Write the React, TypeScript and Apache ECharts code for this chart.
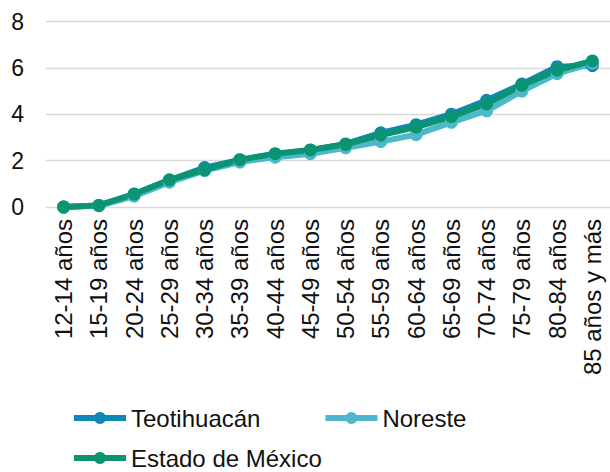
import React, { useEffect, useRef } from "react";
import * as echarts from "echarts";

const categories = [
  "12-14 años", "15-19 años", "20-24 años", "25-29 años", "30-34 años",
  "35-39 años", "40-44 años", "45-49 años", "50-54 años", "55-59 años",
  "60-64 años", "65-69 años", "70-74 años", "75-79 años", "80-84 años",
  "85 años y más",
];

const teotihuacan = [0, 0.07, 0.55, 1.15, 1.7, 2.03, 2.28, 2.45, 2.72, 3.2, 3.55, 4.0, 4.6, 5.3, 6.05, 6.1];
const noreste = [0, 0.05, 0.47, 1.07, 1.57, 1.94, 2.15, 2.3, 2.55, 2.82, 3.12, 3.65, 4.15, 5.0, 5.75, 6.2];
const estadoMexico = [0, 0.07, 0.56, 1.17, 1.6, 2.04, 2.3, 2.46, 2.7, 3.1, 3.45, 3.9, 4.45, 5.25, 5.9, 6.3];

const yTicks = { min: 0, max: 8, interval: 2 };

const FONT = "'Liberation Sans', Arial, sans-serif";

export default function App() {
  const ref = useRef<HTMLDivElement>(null);
  useEffect(() => {
    if (!ref.current) return;
    const chart = echarts.init(ref.current, null, { renderer: "svg" });
    const mk = (name: string, data: number[], color: string) => ({
      name,
      type: "line",
      data,
      symbol: "circle",
      symbolSize: 13,
      lineStyle: { width: 6, color },
      itemStyle: { color },
      emphasis: { disabled: true },
    });
    const legendCommon = {
      padding: 0,
      itemWidth: 52,
      itemHeight: 15,
      lineStyle: { width: 6 },
      textStyle: { fontSize: 24, color: "#111", fontFamily: FONT },
    };
    chart.setOption({
      animation: false,
      textStyle: { fontFamily: FONT },
      grid: { left: 46, right: -3, top: 21.5, bottom: 265, containLabel: false },
      legend: [
        {
          ...legendCommon,
          data: ["Teotihuacán", "Noreste"],
          left: 71,
          top: 406,
          itemGap: 62,
        },
        {
          ...legendCommon,
          data: ["Estado de México"],
          left: 71,
          top: 446,
        },
      ],
      xAxis: {
        type: "category",
        data: categories,
        boundaryGap: true,
        axisLine: { show: false },
        axisTick: { show: false },
        axisLabel: {
          rotate: 90,
          interval: 0,
          margin: 12,
          fontSize: 24,
          color: "#111",
          fontFamily: FONT,
        },
      },
      yAxis: {
        type: "value",
        min: yTicks.min,
        max: yTicks.max,
        interval: yTicks.interval,
        axisLine: { show: false },
        axisTick: { show: false },
        splitLine: { lineStyle: { color: "#d9d9d9", width: 1.3 } },
        axisLabel: { fontSize: 23, color: "#111", margin: 22, fontFamily: FONT },
      },
      series: [
        mk("Teotihuacán", teotihuacan, "#1088b5"),
        mk("Noreste", noreste, "#4db8ca"),
        mk("Estado de México", estadoMexico, "#0a9471"),
      ],
    });
    return () => chart.dispose();
  }, []);
  return <div ref={ref} style={{ width: 610, height: 472, position: "absolute", left: 0, top: 0 }} />;
}
